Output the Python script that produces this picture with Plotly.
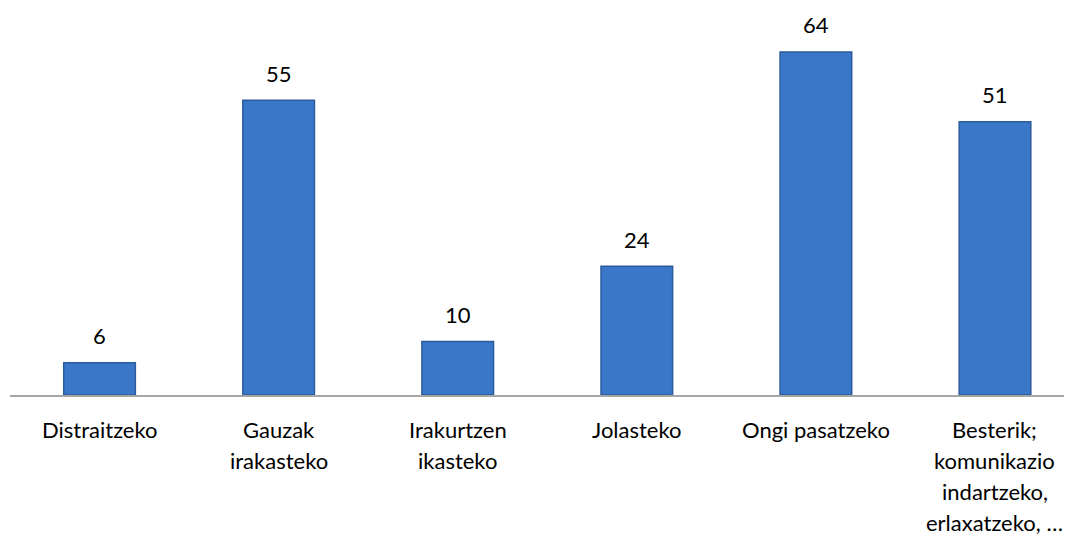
import plotly.graph_objects as go

categories = ["Distraitzeko", "Gauzak irakasteko", "Irakurtzen ikasteko", "Jolasteko",
              "Ongi pasatzeko", "Besterik; komunikazio indartzeko, erlaxatzeko, …"]
label_lines = [["Distraitzeko"], ["Gauzak", "irakasteko"], ["Irakurtzen", "ikasteko"],
               ["Jolasteko"], ["Ongi pasatzeko"],
               ["Besterik;", "komunikazio", "indartzeko,", "erlaxatzeko, …"]]
values = [6, 55, 10, 24, 64, 51]

FONT = "Lato"
x = list(range(len(categories)))

fig = go.Figure()
fig.add_trace(go.Bar(
    x=x, y=values, width=0.4,
    marker=dict(color="#3A77C9", line=dict(color="#2C5B9C", width=1.5)),
    hoverinfo="skip",
))

annotations = []
for i, v in enumerate(values):
    annotations.append(dict(x=i, y=v, xref="x", yref="y", text=str(v), showarrow=False,
                            yshift=27, font=dict(family=FONT, size=22, color="#000000")))
for i, lines in enumerate(label_lines):
    for j, line in enumerate(lines):
        annotations.append(dict(x=i, y=0, xref="x", yref="y", text=line, showarrow=False,
                                yshift=-34 - 31 * j,
                                font=dict(family=FONT, size=22, color="#000000")))

fig.update_layout(
    width=1064, height=530,
    margin=dict(l=2, r=0, t=0, b=143),
    paper_bgcolor="white", plot_bgcolor="white",
    showlegend=False,
    annotations=annotations,
    xaxis=dict(range=[-0.5, 5.43], showticklabels=False, showgrid=False, zeroline=False,
               showline=True, linecolor="#A6A6A6", linewidth=1.5, ticks=""),
    yaxis=dict(range=[0, 72.2], visible=False),
)
fig.write_html("out.html")
